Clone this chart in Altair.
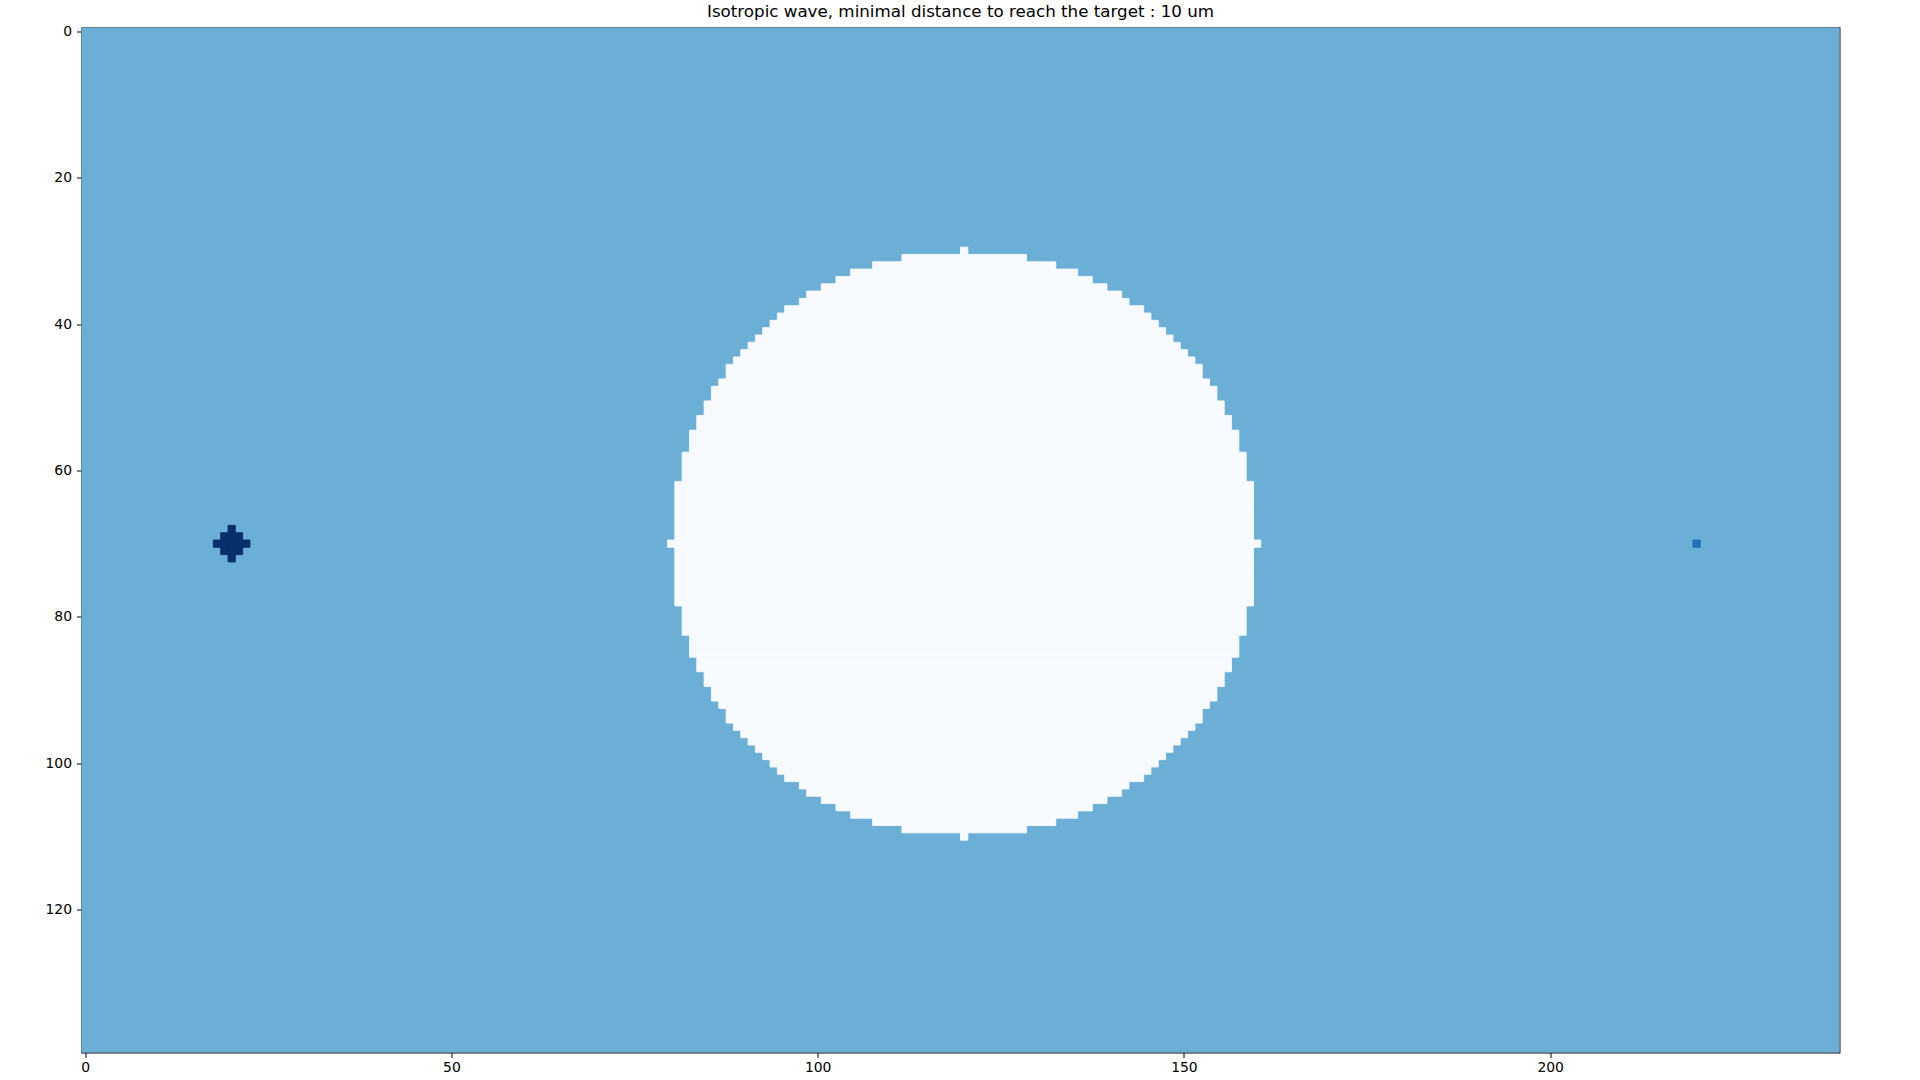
import altair as alt
import pandas as pd

# Grid size (columns x rows) of the image
n_cols = 240
n_rows = 140

# Obstacle disc: centre (column, row) and half-width of each row, for |row - centre| = 0..40
disc_center_col = 120
disc_center_row = 70
disc_half_width = [40, 39, 39, 39, 39, 39, 39, 39, 39, 38, 38, 38, 38, 37, 37, 37,
                   36, 36, 35, 35, 34, 34, 33, 32, 32, 31, 30, 29, 28, 27, 26, 25,
                   24, 22, 21, 19, 17, 15, 12, 8, 0]

# Source cells (dark cross)
source_cols = [20, 19, 20, 21, 18, 19, 20, 21, 22, 19, 20, 21, 20]
source_rows = [68, 69, 69, 69, 70, 70, 70, 70, 70, 71, 71, 71, 72]

# Target cell
target_cols = [220]
target_rows = [70]

kinds = ["background", "obstacle", "target", "source"]
kind_colors = ["#6baed6", "#f7fbff", "#2171b5", "#08306b"]

records = []
records.append(dict(x0=-0.5, x1=n_cols - 0.5, y0=-0.5, y1=n_rows - 0.5, kind="background"))
for dy, hw in enumerate(disc_half_width):
    rows = {disc_center_row - dy, disc_center_row + dy}
    for r in rows:
        records.append(dict(x0=disc_center_col - hw - 0.5, x1=disc_center_col + hw + 0.5,
                            y0=r - 0.5, y1=r + 0.5, kind="obstacle"))
for c, r in zip(source_cols, source_rows):
    records.append(dict(x0=c - 0.5, x1=c + 0.5, y0=r - 0.5, y1=r + 0.5, kind="source"))
for c, r in zip(target_cols, target_rows):
    records.append(dict(x0=c - 0.5, x1=c + 0.5, y0=r - 0.5, y1=r + 0.5, kind="target"))

df = pd.DataFrame(records)

color_scale = alt.Scale(domain=kinds, range=kind_colors)

chart = alt.Chart(df).mark_rect(strokeWidth=0.9, clip=True).encode(
    x=alt.X("x0:Q", scale=alt.Scale(domain=[-0.5, n_cols - 0.5], nice=False, zero=False),
            axis=alt.Axis(values=[0, 50, 100, 150, 200], title=None, labelPadding=3)),
    x2="x1:Q",
    y=alt.Y("y0:Q", scale=alt.Scale(domain=[-0.5, n_rows - 0.5], nice=False, zero=False, reverse=True),
            axis=alt.Axis(values=[0, 20, 40, 60, 80, 100, 120], title=None, labelPadding=5)),
    y2="y1:Q",
    color=alt.Color("kind:N", scale=color_scale, legend=None),
    stroke=alt.Stroke("kind:N", scale=color_scale, legend=None),
).properties(
    width=1758,
    height=1025,
    background="white",
    title=alt.TitleParams(
        "Isotropic wave, minimal distance to reach the target : 10 um",
        anchor="middle", frame="group", fontSize=16.7, fontWeight="normal",
        font="DejaVu Sans", color="black", offset=3,
    ),
    autosize=alt.AutoSizeParams(type="none"),
    padding={"left": 81.5, "top": 27.5, "right": 80.5, "bottom": 27.5},
).configure_view(
    stroke="black", strokeWidth=1.1
).configure_axis(
    domain=False, grid=False, ticks=True, tickColor="black", tickSize=5, tickWidth=1,
    labelFont="DejaVu Sans", labelFontSize=13.9, labelColor="black",
)

chart.save("out.html", embed_options={"renderer": "svg", "actions": False})
